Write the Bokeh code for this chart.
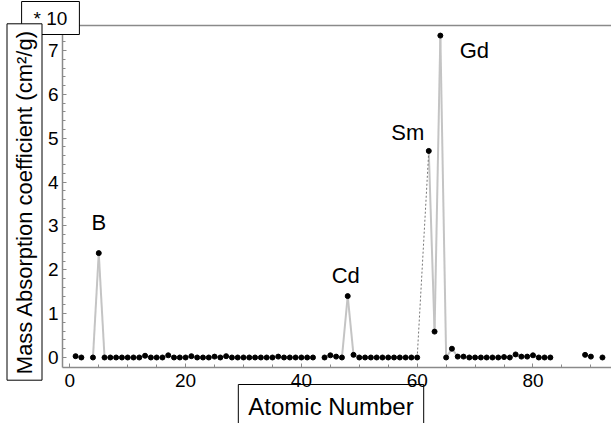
import math
from bokeh.plotting import figure
from bokeh.models import Range1d, LinearAxis, Label, FixedTicker
from bokeh.embed import file_html
from bokeh.resources import INLINE

# ---- data (axis shown in units of 10 cm^2/g) ----
atomic_number = [1, 2, 4, 5, 6, 7, 8, 9, 10, 11, 12, 13, 14, 15, 16, 17, 18, 19, 20,
                 21, 22, 23, 24, 25, 26, 27, 28, 29, 30, 31, 32, 33, 34, 35, 36, 37,
                 38, 39, 40, 41, 42, 44, 45, 46, 47, 48, 49, 50, 51, 52, 53, 54, 55,
                 56, 57, 58, 59, 60, 62, 63, 64, 65, 66, 67, 68, 69, 70, 71, 72, 73,
                 74, 75, 76, 77, 78, 79, 80, 81, 82, 83, 89, 90, 92]
mass_abs = [0.03, 0.00, 0.00, 2.38, 0.00, 0.00, 0.00, 0.00, 0.00, 0.00, 0.00, 0.04,
            0.00, 0.00, 0.00, 0.05, 0.00, 0.00, 0.00, 0.03, 0.00, 0.00, 0.00, 0.02,
            0.00, 0.03, 0.00, 0.00, 0.00, 0.00, 0.00, 0.00, 0.00, 0.00, 0.02, 0.00,
            0.00, 0.00, 0.00, 0.00, 0.00, 0.00, 0.05, 0.02, 0.00, 1.40, 0.06, 0.00,
            0.00, 0.00, 0.00, 0.00, 0.00, 0.00, 0.00, 0.00, 0.00, 0.00, 4.71, 0.59,
            7.34, 0.00, 0.20, 0.02, 0.02, 0.00, 0.00, 0.00, 0.00, 0.00, 0.00, 0.01,
            0.00, 0.07, 0.02, 0.02, 0.05, 0.00, 0.00, 0.00, 0.06, 0.02, 0.00]
bridged_pair = [60, 62]          # gap drawn with a dotted line
peak_names = ["B", "Cd", "Sm", "Gd"]
peak_z = [5, 48, 62, 64]
x_ticks = [0, 20, 40, 60, 80]
y_ticks = [0, 1, 2, 3, 4, 5, 6, 7]
scale_note = "* 10"
x_title = "Atomic Number"
y_title = "Mass Absorption coefficient (cm\u00b2/g)"

FONT = "Liberation Sans"
GREY = "#8a8a8a"

# visible axis box (data units); the frame spans the whole canvas so that the
# boxed titles, which lie outside the axes, are not clipped
X_LO, X_HI = -1.26, 93.56
Y_LO, Y_HI = -0.23, 7.57

p = figure(width=611, height=423, output_backend="svg", toolbar_location=None,
           x_range=Range1d(-11.97, 93.56), y_range=Range1d(-1.505, 8.14),
           x_axis_location=None, y_axis_location=None, title=None,
           min_border=0)
p.min_border_left = 0
p.min_border_right = 0
p.min_border_top = 0
p.min_border_bottom = 0
p.grid.visible = False
p.outline_line_color = None

# solid segments between consecutive elements
xs, ys = [], []
for i in range(len(atomic_number) - 1):
    if atomic_number[i + 1] - atomic_number[i] == 1:
        xs.append([atomic_number[i], atomic_number[i + 1]])
        ys.append([mass_abs[i], mass_abs[i + 1]])
p.multi_line(xs, ys, line_color="#c4c4c4", line_width=2)

ia = atomic_number.index(bridged_pair[0])
ib = atomic_number.index(bridged_pair[1])
p.line([atomic_number[ia], atomic_number[ib]], [mass_abs[ia], mass_abs[ib]],
       line_color="#777777", line_width=1, line_dash="2 2")

p.scatter(atomic_number, mass_abs, size=5, color="black")

def style(ax):
    ax.axis_line_color = GREY
    ax.axis_line_width = 1.5
    ax.major_tick_line_color = GREY
    ax.minor_tick_line_color = GREY
    ax.major_tick_in = 4
    ax.major_tick_out = 0
    ax.minor_tick_in = 3
    ax.minor_tick_out = 0
    ax.major_label_text_font = FONT
    ax.major_label_text_font_size = "19px"
    ax.major_label_text_color = "black"

xaxis = LinearAxis(fixed_location=Y_LO, bounds=(X_LO, X_HI),
                   ticker=FixedTicker(ticks=x_ticks,
                                      minor_ticks=[t for t in range(0, 95, 5) if t % 20]))
style(xaxis)
xaxis.major_label_standoff = 6
p.add_layout(xaxis, "below")

yaxis = LinearAxis(fixed_location=X_LO, bounds=(Y_LO, Y_HI),
                   ticker=FixedTicker(ticks=y_ticks,
                                      minor_ticks=[round(k * 0.2, 1) for k in range(0, 38) if k % 5]))
style(yaxis)
yaxis.major_label_standoff = 4
p.add_layout(yaxis, "left")

top = LinearAxis(fixed_location=Y_HI, bounds=(X_LO, X_HI),
                 ticker=FixedTicker(ticks=[]), major_label_text_font_size="0px",
                 axis_line_color=GREY, axis_line_width=1.5,
                 major_tick_line_color=None, minor_tick_line_color=None)
p.add_layout(top, "above")

# peak labels, anchored on their data points
offsets = {"B": (0, 31), "Cd": (-2, 21), "Sm": (-21, 18), "Gd": (34, -15)}
for name, z in zip(peak_names, peak_z):
    v = mass_abs[atomic_number.index(z)]
    dx, dy = offsets[name]
    p.add_layout(Label(x=z, y=v, x_offset=dx, y_offset=dy, text=name,
                       text_font=FONT, text_font_size="22px", text_color="black",
                       text_align="center", text_baseline="middle"))

# boxed texts (canvas coordinates)
p.add_layout(Label(x=50, y=17.5, x_units="canvas", y_units="canvas", text=scale_note,
                   text_font=FONT, text_font_size="19px", text_color="black",
                   text_align="center", text_baseline="middle",
                   border_line_color="black", background_fill_color="white",
                   padding=(12, 6)))
p.add_layout(Label(x=24, y=201.5, x_units="canvas", y_units="canvas", text=y_title,
                   angle=math.pi / 2, text_font=FONT, text_font_size="22px",
                   text_color="black", text_align="center", text_baseline="middle",
                   border_line_color="black", background_fill_color="white",
                   padding=(6, 5)))
p.add_layout(Label(x=330.5, y=405.5, x_units="canvas", y_units="canvas", text=x_title,
                   text_font=FONT, text_font_size="24px", text_color="black",
                   text_align="center", text_baseline="middle",
                   border_line_color="black", padding=(10, 8)))

open("out.html", "w").write(file_html(p, INLINE))
